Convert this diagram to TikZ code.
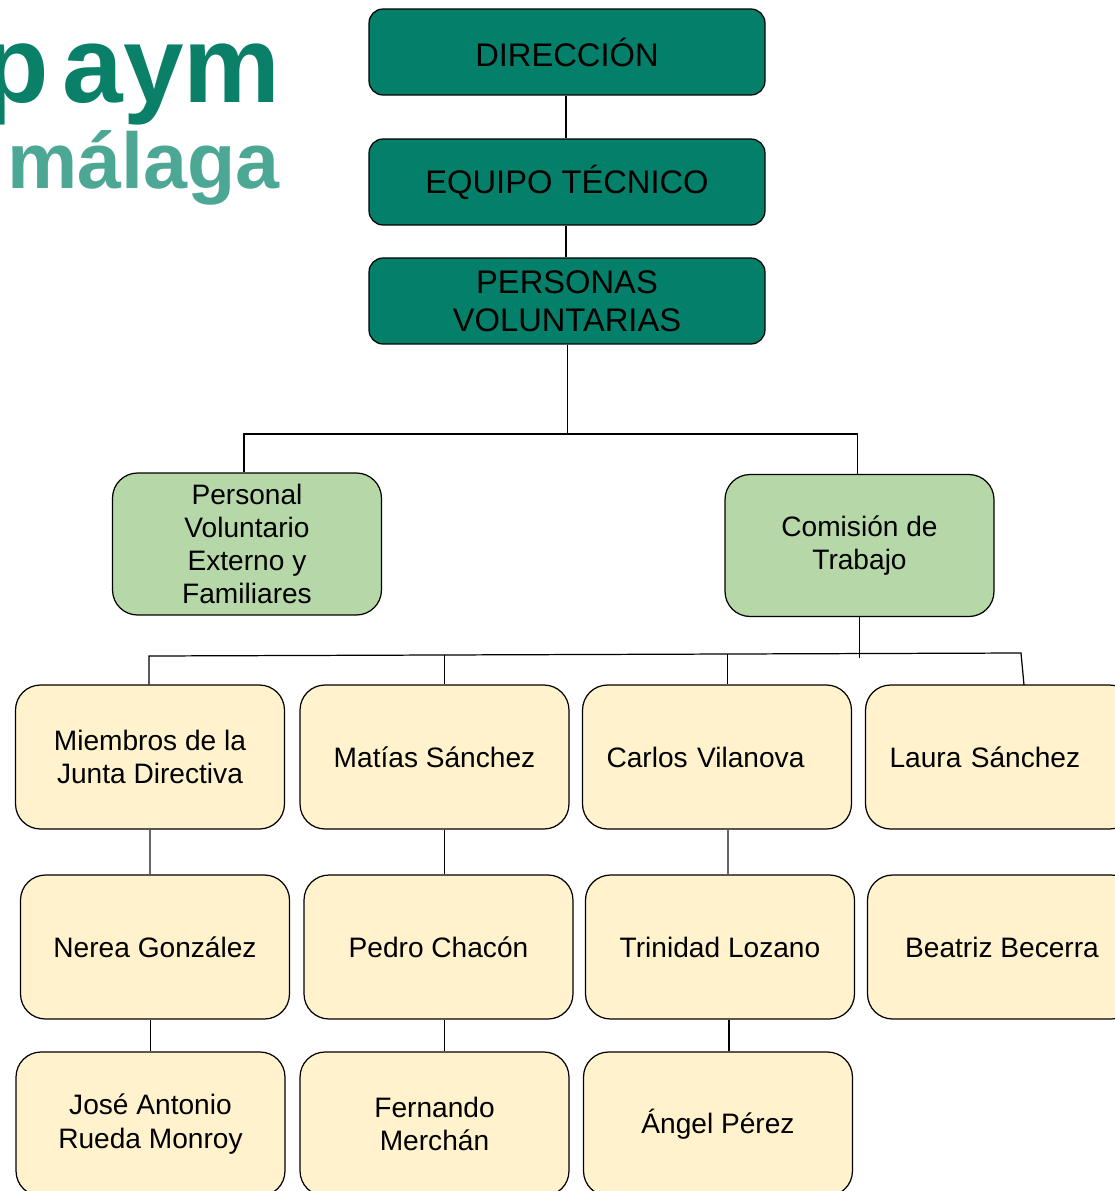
\documentclass[tikz,border=0pt]{standalone}
\usepackage{fontspec}
\setmainfont{Liberation Sans}
\definecolor{tealbox}{HTML}{047F6A}
\definecolor{greenbox}{HTML}{B6D7A8}
\definecolor{creambox}{HTML}{FFF2CC}
\definecolor{logodark}{HTML}{0A8069}
\definecolor{logolight}{HTML}{4DA795}
\tikzset{
  topbox/.style={draw, rounded corners=0.28cm, fill=tealbox, minimum width=7.92cm, minimum height=1.72cm, align=center, line width=0.7pt, font=\fontsize{18.6}{21.5}\selectfont},
  midbox/.style={draw, rounded corners=0.5cm, fill=greenbox, minimum width=5.38cm, minimum height=2.84cm, align=center, line width=0.7pt, font=\fontsize{16}{18.9}\selectfont},
  namebox/.style={draw, rounded corners=0.5cm, fill=creambox, minimum width=5.38cm, minimum height=2.88cm, align=center, line width=0.7pt, font=\fontsize{16}{18.9}\selectfont},
  sidebox/.style={namebox, align=left, inner xsep=0.48cm, text width=4.42cm},
  link/.style={line width=0.7pt},
  greylink/.style={line width=0.9pt, black!60}
}
\begin{document}
\begin{tikzpicture}[x=0.02cm, y=-0.02cm]
    \useasboundingbox (0,0) rectangle (1115,1191);

    % logo
    \node[anchor=base east, inner sep=0pt, text=logodark, font=\fontsize{62}{62}\selectfont\bfseries] (logoA) at (281,102) {p\kern8pt aym};
    \node[anchor=base east, inner sep=0pt, text=logolight, font=\fontsize{45}{45}\selectfont\bfseries] (logoB) at (280,188) {málaga};

    \node[topbox] (dir) at (567,52) {DIRECCIÓN};
    \node[topbox] (tec) at (567,182) {EQUIPO TÉCNICO};
    \node[topbox] (vol) at (567,301) {PERSONAS\\VOLUNTARIAS};

    \node[midbox] (ext) at (247,544) {Personal\\Voluntario\\Externo y\\Familiares};
    \node[midbox] (com) at (859.5,545.5) {Comisión de\\Trabajo};

    \node[namebox] (jun) at (150,757) {Miembros de la\\Junta Directiva};
    \node[namebox] (mat) at (434.5,757) {Matías Sánchez};
    \node[sidebox] (car) at (717,757) {Carlos Vilanova};
    \node[sidebox] (lau) at (1000,757) {Laura Sánchez};

    \node[namebox] (ner) at (155,947) {Nerea González};
    \node[namebox] (ped) at (438.5,947) {Pedro Chacón};
    \node[namebox] (tri) at (720,947) {Trinidad Lozano};
    \node[namebox] (bea) at (1002,947) {Beatriz Becerra};

    \node[namebox] (jos) at (150.5,1124) {José Antonio\\Rueda Monroy};
    \node[namebox] (fer) at (434.5,1124) {Fernando\\Merchán};
    \node[namebox] (ang) at (718,1124) {Ángel Pérez};

    % lineas
    \draw[link] (dir.south -| 566,0) -- (tec.north -| 566,0);
    \draw[link] (tec.south -| 566,0) -- (vol.north -| 566,0);

    \coordinate (busC) at (567.5,434);
    \coordinate (busL) at (244,434);
    \coordinate (busR) at (857.5,434);
    \draw[link] (vol.south -| busC) -- (busC);
    \draw[link] (ext.north -| busL) -- (busL) -- (busR) -- (com.north -| busR);

    \coordinate (rowL) at (149,656);
    \coordinate (rowR) at (1021,653);
    \coordinate (rowC) at (859.5,658);
    \coordinate (rowM) at (444.5,655);
    \coordinate (rowK) at (727.5,654);
    \draw[link] (com.south -| rowC) -- (rowC);
    \draw[link] (jun.north -| rowL) -- (rowL) -- (rowR) -- (1024,685);
    \draw[link] (rowM) -- (mat.north -| rowM);
    \draw[link] (rowK) -- (car.north -| rowK);

    \draw[greylink] (jun.south) -- (ner.north -| jun.south);
    \draw[link] (mat.south -| rowM) -- (ped.north -| rowM);
    \draw[greylink] (car.south -| 728,0) -- (tri.north -| 728,0);
    \draw[link] (ner.south -| jos.north) -- (jos.north);
    \draw[link] (ped.south -| rowM) -- (fer.north -| rowM);
    \draw[link] (tri.south -| 729,0) -- (ang.north -| 729,0);
  \end{tikzpicture}
\end{document}
